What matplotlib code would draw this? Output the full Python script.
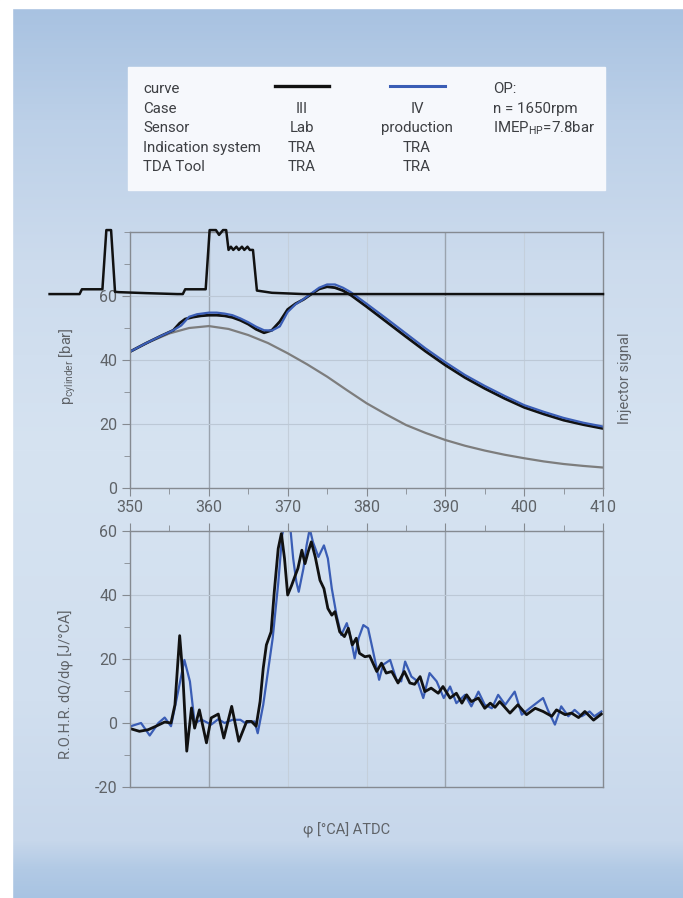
import numpy as np
import matplotlib
matplotlib.use("Agg")
import matplotlib.pyplot as plt
from matplotlib.patches import Rectangle
from matplotlib.ticker import MultipleLocator

plt.rcParams['font.family'] = ['Roboto', 'DejaVu Sans']
plt.rcParams['mathtext.fontset'] = 'custom'
plt.rcParams['mathtext.rm'] = 'Roboto'
plt.rcParams['axes.unicode_minus'] = False
plt.rcParams['lines.solid_joinstyle'] = 'round'

# --- cylinder pressure [bar] ---
p_angle_III = [350, 352, 354, 355.5, 356.3, 357, 358, 359, 360, 361, 362, 363, 364, 365, 366, 367,
               368, 369, 370, 371, 372, 373, 374, 375, 376, 377, 378, 380, 382.5, 385, 387.5,
               390, 392.5, 395, 397.5, 400, 402.5, 405, 407.5, 410]
p_III = [42.6, 45.2, 47.6, 49.3, 51.5, 52.8, 53.4, 53.8, 54.0, 54.0, 53.8, 53.3, 52.4, 51.2, 49.6, 48.5,
         49.3, 52.0, 55.8, 57.6, 58.9, 60.6, 62.2, 62.9, 62.6, 61.7, 60.3, 56.7, 52.0, 47.3, 42.7,
         38.4, 34.5, 31.1, 28.0, 25.2, 23.1, 21.2, 19.8, 18.6]

p_angle_IV = [350, 352, 354, 355.5, 356.5, 357.5, 358.5, 360, 361, 362, 363, 364, 365, 366, 367,
              368, 369, 370, 371, 372, 373, 374, 375, 376, 377, 378, 380, 382.5, 385, 387.5,
              390, 392.5, 395, 397.5, 400, 402.5, 405, 407.5, 410]
p_IV = [42.6, 45.2, 47.6, 49.3, 50.8, 53.5, 54.3, 54.8, 54.8, 54.5, 54.0, 53.0, 51.8, 50.4, 49.3,
        49.2, 50.5, 55.0, 57.4, 59.0, 60.8, 62.6, 63.6, 63.6, 62.6, 61.2, 57.6, 53.0, 48.3, 43.6,
        39.3, 35.3, 31.9, 28.8, 25.9, 23.8, 21.9, 20.4, 19.2]

p_angle_motored = [350, 352.5, 355, 357.5, 360, 362.5, 365, 367.5, 370, 372.5, 375, 377.5, 380,
                   382.5, 385, 387.5, 390, 392.5, 395, 397.5, 400, 402.5, 405, 407.5, 410]
p_motored = [42.6, 45.7, 48.3, 50.0, 50.6, 49.7, 47.8, 45.3, 42.1, 38.6, 34.8, 30.6, 26.5,
             23.0, 19.7, 17.2, 15.0, 13.2, 11.7, 10.4, 9.3, 8.3, 7.5, 6.9, 6.4]

# --- injector signal (plotted on the pressure scale, arbitrary units) ---
inj_angle = [339.8, 343.6, 343.9, 346.5, 347.0, 347.6, 348.1, 348.6, 352.0, 356.0, 356.7, 357.0,
             359.6, 360.1, 360.9, 361.3, 361.8, 362.2, 362.5, 362.8, 363.1, 363.5, 363.8, 364.2,
             364.5, 364.9, 365.2, 365.6, 366.1, 368.0, 372.0, 410.0]
inj_signal = [60.6, 60.6, 62.1, 62.1, 80.6, 80.6, 61.3, 61.2, 60.9, 60.6, 60.6, 62.1,
              62.1, 80.6, 80.6, 79.1, 80.6, 80.6, 74.4, 75.4, 74.4, 75.4, 74.4, 75.4,
              74.4, 75.4, 74.4, 74.4, 61.7, 61.0, 60.6, 60.6]

# --- rate of heat release [J/°CA] ---
rohr_angle_III = [350.1, 351.2, 352.3, 353.3, 354.4, 355.2, 355.7, 356.3, 356.7, 357.2, 357.8, 358.2,
                  358.8, 359.7, 360.3, 361.2, 361.9, 362.9, 363.8, 364.8, 365.4, 366.0, 366.5, 366.9,
                  367.3, 367.9, 368.3, 368.8, 369.2, 369.6, 370.0, 370.5, 370.9, 371.3, 371.8, 372.2,
                  372.6, 373.0, 373.5, 374.1, 374.6, 375.1, 375.6, 376.0, 376.6, 377.2, 377.7, 378.2,
                  378.7, 379.1, 379.8, 380.4, 381.3, 381.9, 382.5, 383.2, 384.0, 384.8, 385.5, 386.1,
                  386.8, 387.4, 388.2, 389.1, 389.7, 390.6, 391.4, 392.1, 392.7, 393.3, 394.2, 395.0,
                  395.7, 396.3, 396.9, 398.2, 399.2, 400.3, 401.4, 402.4, 403.5, 404.1, 405.2, 406.0,
                  406.9, 407.7, 408.8, 409.8]
rohr_III = [-1.8, -2.6, -2.1, -1.0, 0.3, 0.0, 5.7, 27.3, 15.0, -8.8, 4.7, -1.6,
            4.1, -6.2, 1.6, 2.8, -4.7, 5.2, -5.7, 0.5, 0.5, -1.0, 6.7, 17.1,
            24.4, 28.5, 41.0, 54.5, 59.2, 51.4, 40.0, 43.0, 45.7, 48.3, 54.0, 49.8,
            53.5, 56.6, 51.9, 44.6, 42.0, 35.8, 33.7, 34.8, 28.5, 27.0, 29.6, 24.4,
            26.5, 21.8, 20.7, 21.0, 16.1, 18.7, 15.6, 16.1, 12.5, 16.1, 12.5, 12.1,
            14.5, 9.8, 10.9, 9.3, 11.4, 7.8, 9.3, 6.2, 8.8, 6.7, 7.8, 4.6,
            6.2, 4.9, 6.7, 3.1, 5.7, 2.6, 4.6, 3.6, 2.1, 4.1, 2.6, 3.1,
            1.7, 3.6, 0.9, 2.8]

rohr_angle_IV = [350.1, 351.4, 352.5, 353.6, 354.4, 355.2, 356.1, 356.9, 357.6, 358.2, 359.1, 360.3,
                 361.2, 362.0, 363.0, 364.0, 364.6, 365.8, 366.2, 366.9, 367.5, 368.1, 368.8, 369.3,
                 369.6, 370.3, 370.7, 371.1, 371.4, 372.0, 372.4, 372.8, 373.2, 373.9, 374.6, 375.1,
                 375.6, 376.2, 376.8, 377.5, 378.0, 378.5, 379.0, 379.6, 380.2, 380.8, 381.6, 382.1,
                 383.0, 383.8, 384.4, 384.9, 385.7, 386.5, 387.2, 388.0, 388.9, 389.8, 390.6, 391.4,
                 392.5, 393.3, 394.2, 395.0, 395.9, 396.7, 397.6, 398.8, 399.7, 400.7, 402.4, 403.0,
                 403.9, 404.7, 405.6, 406.4, 407.3, 408.3, 408.9, 409.8]
rohr_IV = [-1.0, 0.0, -3.9, 0.0, 1.7, -1.0, 9.8, 19.7, 13.0, 0.0, 1.0, -0.5,
           1.2, 0.0, 1.0, 1.0, 0.0, 0.5, -3.2, 5.7, 16.1, 26.5, 43.6, 58.7,
           62.0, 62.0, 51.4, 44.1, 41.0, 48.3, 55.5, 60.7, 56.6, 51.9, 55.5, 51.4,
           42.0, 33.7, 27.5, 31.2, 26.5, 20.2, 26.5, 30.6, 29.6, 22.8, 13.5, 18.2,
           19.7, 13.5, 13.0, 19.2, 14.5, 13.0, 7.8, 15.6, 13.0, 7.8, 11.4, 6.2,
           8.8, 5.2, 9.8, 5.7, 4.6, 8.8, 5.7, 9.8, 2.6, 4.6, 7.8, 4.1,
           -0.5, 5.2, 2.1, 4.1, 2.1, 3.6, 2.1, 3.6]

W, H = 683, 898
BLACK = '#111111'
BLUE = '#3a5db5'
GRAY = '#7d7d7d'
TXT = '#5f6368'
SPINE = '#858a91'


def fx(px):
    return px / W


def fy(py):
    return 1 - py / H


fig = plt.figure(figsize=(W / 100, H / 100), dpi=100)

# background gradient panel
bg = fig.add_axes([0, 0, 1, 1], zorder=-10)
rows = np.arange(H)
stops = [0, 8, 120, 260, 450, 700, 840, 868, 898]
cols = np.array([[168, 194, 225], [168, 194, 225], [188, 208, 232], [204, 219, 237], [214, 227, 241],
                 [209, 223, 239], [199, 215, 235], [178, 202, 229], [168, 195, 226]]) / 255
grad = np.stack([np.interp(rows, stops, cols[:, k]) for k in range(3)], axis=-1)
bg.imshow(grad[:, None, :], aspect='auto', extent=[0, 1, 0, 1])
bg.add_patch(Rectangle((0, 0), fx(12), 1, color='white'))
bg.add_patch(Rectangle((0, fy(8)), 1, fy(0) - fy(8), color='white'))
# legend panel
bg.add_patch(Rectangle((fx(128), fy(190)), fx(477), fy(67) - fy(190), color='#f6f8fc'))
bg.set_xlim(0, 1)
bg.set_ylim(0, 1)
bg.axis('off')

# legend table
rows_y = [89, 109, 128, 148, 167]
col1 = ['curve', 'Case', 'Sensor', 'Indication system', 'TDA Tool']
col2 = ['', 'III', 'Lab', 'TRA', 'TRA']
col3 = ['', 'IV', 'production', 'TRA', 'TRA']
col4 = ['OP:', 'n = 1650rpm', r'IMEP$_{\mathregular{HP}}$=7.8bar']
LT = '#3d3f43'
for i, y in enumerate(rows_y):
    fig.text(fx(143), fy(y), col1[i], ha='left', va='center', fontsize=10.8, color=LT)
    fig.text(fx(302), fy(y), col2[i], ha='center', va='center', fontsize=10.8, color=LT)
    fig.text(fx(417), fy(y), col3[i], ha='center', va='center', fontsize=10.8, color=LT)
    if i < len(col4):
        fig.text(fx(493), fy(y), col4[i], ha='left', va='center', fontsize=10.8, color=LT)
bg.plot([fx(275), fx(329)], [fy(86), fy(86)], color=BLACK, lw=2.4)
bg.plot([fx(390), fx(445)], [fy(86), fy(86)], color=BLUE, lw=2.2)

# axes
ax1 = fig.add_axes([fx(130), fy(488), fx(473), fy(232) - fy(488)])
ax2 = fig.add_axes([fx(130), fy(787), fx(473), fy(531) - fy(787)])

for ax in (ax1, ax2):
    ax.set_facecolor('none')
    ax.set_xlim(350, 410)
    for s in ax.spines.values():
        s.set_color(SPINE)
        s.set_linewidth(1.0)
    ax.xaxis.set_major_locator(MultipleLocator(10))
    ax.xaxis.set_minor_locator(MultipleLocator(5))
    ax.tick_params(which='both', color=SPINE, labelcolor=TXT, labelsize=11.5, direction='out')
    ax.tick_params(which='major', length=6, pad=3)
    ax.tick_params(which='minor', length=4)
    for xv in range(360, 410, 10):
        strong = xv in (360, 390)
        ax.axvline(xv, color='#9aa3ae' if strong else '#c4cfdb', lw=1.0 if strong else 0.8, zorder=0)

# top: pressure
ax1.set_ylim(0, 80)
ax1.yaxis.set_major_locator(MultipleLocator(20))
ax1.yaxis.set_minor_locator(MultipleLocator(10))
ax1.set_yticks([0, 20, 40, 60])
ax1.set_xticks(range(350, 411, 10))
for yv in (20, 40, 60):
    ax1.axhline(yv, color='#bcc8d6', lw=0.8, zorder=0)
ax1.plot(p_angle_motored, p_motored, color=GRAY, lw=1.6)
ax1.plot(p_angle_III, p_III, color=BLACK, lw=2.0)
ax1.plot(p_angle_IV, p_IV, color=BLUE, lw=1.6)
ax1.plot(inj_angle, inj_signal, color=BLACK, lw=1.8, clip_on=False, zorder=5)

# bottom: ROHR
ax2.set_ylim(-20, 60)
ax2.yaxis.set_major_locator(MultipleLocator(20))
ax2.yaxis.set_minor_locator(MultipleLocator(10))
ax2.xaxis.tick_top()
ax2.tick_params(axis='x', which='both', labeltop=False, labelbottom=False)
for yv in (0, 20, 40):
    ax2.axhline(yv, color='#bcc8d6', lw=0.8, zorder=0)
ax2.plot(rohr_angle_IV, rohr_IV, color=BLUE, lw=1.6)
ax2.plot(rohr_angle_III, rohr_III, color=BLACK, lw=2.0)

# axis labels
fig.text(fx(68), fy(366), r'p$_{\mathregular{cylinder}}$ [bar]', rotation=90,
         ha='center', va='center', fontsize=10.5, color=TXT)
fig.text(fx(625), fy(378), 'Injector signal', rotation=90,
         ha='center', va='center', fontsize=10.5, color=TXT)
fig.text(fx(66), fy(684), 'R.O.H.R. dQ/dφ [J/°CA]', rotation=90,
         ha='center', va='center', fontsize=10.5, color=TXT)
fig.text(fx(347), fy(830), 'φ [°CA] ATDC', ha='center', va='center', fontsize=10.5, color=TXT)

fig.savefig('out.png', dpi=100)
